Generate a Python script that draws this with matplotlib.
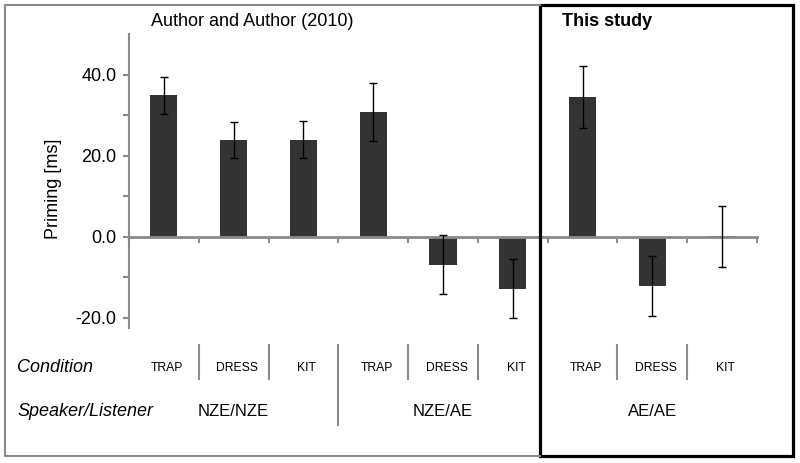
import numpy as np
import matplotlib.pyplot as plt
from matplotlib.transforms import blended_transform_factory
from matplotlib.lines import Line2D
from matplotlib.patches import Rectangle

plt.rcParams['font.family'] = ['Liberation Sans', 'DejaVu Sans']

# data
conditions = ['TRAP', 'DRESS', 'KIT', 'TRAP', 'DRESS', 'KIT', 'TRAP', 'DRESS', 'KIT']
groups = ['NZE/NZE', 'NZE/AE', 'AE/AE']
priming = [34.9, 23.9, 23.9, 30.8, -6.9, -12.8, 34.5, -12.1, 0.1]
errors = [4.6, 4.5, 4.6, 7.2, 7.3, 7.2, 7.6, 7.4, 7.5]
yticks = [-20, 0, 20, 40]

W, H = 800, 463
fig = plt.figure(figsize=(W / 100, H / 100), dpi=100)

def px(x, y):
    # pixel position (from top-left) to figure fraction
    return x / W, 1 - y / H

left, top = px(129, 34)
right, bottom = px(757, 328)
ax = fig.add_axes([left, bottom, right - left, top - bottom])

axis_grey = '#8a8a8a'
x = np.arange(len(priming))
ax.bar(x, priming, width=0.39, color='#333333', zorder=2)
ax.errorbar(x, priming, yerr=errors, fmt='none', ecolor='black',
            elinewidth=1, capsize=3, capthick=1, zorder=3)

ax.set_xlim(-0.5, len(priming) - 0.5)
ax.set_ylim(-22.5, 50)
for s in ['top', 'right']:
    ax.spines[s].set_visible(False)
ax.spines['bottom'].set_position(('data', 0))
ax.spines['bottom'].set_color(axis_grey)
ax.spines['bottom'].set_linewidth(2)
ax.spines['left'].set_color(axis_grey)
ax.spines['left'].set_linewidth(1.5)

ax.set_xticks(np.arange(-0.5, len(priming), 1.0))
ax.set_xticklabels([])
ax.tick_params(axis='x', direction='out', length=4, width=1.5, color=axis_grey)
ax.set_yticks(yticks)
ax.set_yticklabels(['%.1f' % v for v in yticks])
ax.set_yticks([-10, 10, 30], minor=True)
ax.tick_params(axis='y', which='both', direction='out', length=4, width=1.5,
               color=axis_grey, labelsize=13, pad=5)

fig.text(*px(53, 189), 'Priming [ms]', rotation=90, ha='center', va='center', fontsize=13)

# titles
fig.text(*px(252, 22), 'Author and Author (2010)', ha='center', va='center', fontsize=13)
fig.text(*px(562, 22), 'This study', ha='left', va='center', fontsize=13, fontweight='bold')

# condition table below the axis
tr = blended_transform_factory(ax.transData, fig.transFigure)
y_cond = 1 - 368 / H
y_spk = 1 - 412 / H
fig.text(*px(17, 368), 'Condition', ha='left', va='center', fontsize=13, style='italic')
fig.text(*px(17, 412), 'Speaker/Listener', ha='left', va='center', fontsize=13, style='italic')
for i, c in enumerate(conditions):
    fig.text(i + 0.05, y_cond, c, transform=tr, ha='center', va='center', fontsize=8.7)
for g, name in enumerate(groups):
    fig.text(3 * g + 1, y_spk, name, transform=tr, ha='center', va='center', fontsize=12)

y_a = 1 - 345 / H
y_b = 1 - 379 / H
y_c = 1 - 425 / H
for i in range(len(priming) - 1):
    xb = i + 0.5
    if i == 2:
        fig.add_artist(Line2D([xb, xb], [y_a, y_c], transform=tr, color=axis_grey, lw=1.5))
    elif i != 5:
        fig.add_artist(Line2D([xb, xb], [y_a, y_b], transform=tr, color=axis_grey, lw=1.5))

# frames
x0, y0 = px(5, 5)
x1, y1 = px(540, 456)
fig.add_artist(Line2D([x1, x0, x0, x1], [y0, y0, y1, y1], transform=fig.transFigure,
                      color=axis_grey, lw=1.5))
bx0, by0 = px(540, 456)
bx1, by1 = px(793, 5)
fig.add_artist(Rectangle((bx0, by0), bx1 - bx0, by1 - by0, transform=fig.transFigure,
                         fill=False, edgecolor='black', lw=2.3))

fig.savefig('out.png', dpi=100)
